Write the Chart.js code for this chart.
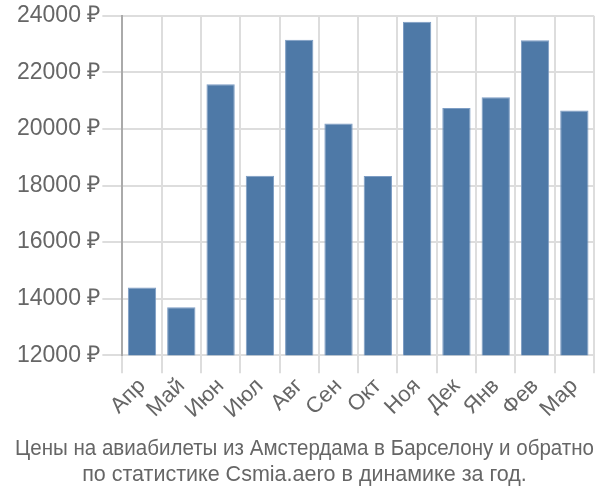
<!DOCTYPE html>
<html>
<head>
<meta charset="utf-8">
<script src="https://cdn.jsdelivr.net/npm/chart.js@4/dist/chart.umd.min.js"></script>
<style>
  html, body { margin: 0; padding: 0; background: #fff; }
  #wrap { width: 600px; height: 500px; }
</style>
</head>
<body>
<div id="wrap"><canvas id="chart"></canvas></div>
<script>
// months and average prices (rub)
var months = ['Апр','Май','Июн','Июл','Авг','Сен','Окт','Ноя','Дек','Янв','Фев','Мар'];
var prices = [14400, 13700, 21580, 18350, 23150, 20190, 18340, 23790, 20740, 21120, 23140, 20650];
var yTicks = [12000, 14000, 16000, 18000, 20000, 22000, 24000];
var titleLines = ['Цены на авиабилеты из Амстердама в Барселону и обратно', 'по статистике Csmia.aero в динамике за год.'];

Chart.defaults.font.family = '"Liberation Sans", Arial, sans-serif';
Chart.defaults.color = '#666';

new Chart(document.getElementById('chart'), {
	type: 'bar',
	data: {
		labels: months,
		datasets: [{
			data: prices,
			backgroundColor: '#4e79a7',
			borderColor: '#7d9dc4',
			borderWidth: 1,
			barPercentage: 0.72,
			categoryPercentage: 1
		}]
	},
	options: {
		responsive: true,
		maintainAspectRatio: false,
		animation: false,
		layout: { padding: { left: 15, right: 6, top: 4 } },
		plugins: {
			legend: { display: false },
			tooltip: { enabled: false },
			title: {
				display: true,
				position: 'bottom',
				text: titleLines,
				color: '#666',
				font: { size: 21.5, weight: 'normal', lineHeight: 1.22 },
				padding: { top: 12, bottom: 12 }
			}
		},
		scales: {
			x: {
				grid: { color: '#ddd', lineWidth: 2, tickLength: 18 },
				border: { color: '#ddd' },
				ticks: { font: { size: 22 }, maxRotation: 45, minRotation: 45, padding: 0, autoSkip: false }
			},
			y: {
				min: yTicks[0],
				max: yTicks[yTicks.length - 1],
				afterBuildTicks: function(axis) {
					axis.ticks = yTicks.map(function(v){ return { value: v }; });
				},
				grid: { color: '#ddd', lineWidth: 2, tickLength: 20 },
				border: { color: '#aaa', width: 2 },
				ticks: {
					font: { size: 23 },
					padding: 2,
					callback: function(v){ return v + ' ₽'; }
				}
			}
		}
	}
});
</script>
</body>
</html>
